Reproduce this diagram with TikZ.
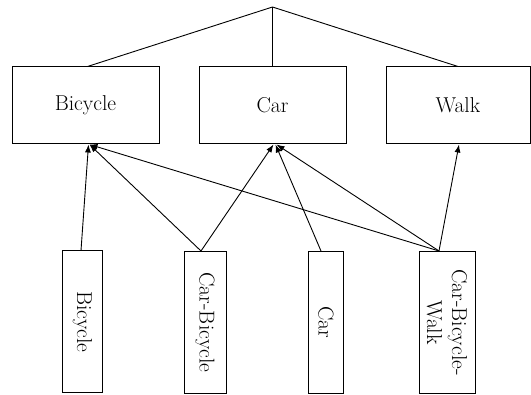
\documentclass[tikz,border=0pt]{standalone}
\usetikzlibrary{arrows.meta}
\begin{document}
\begin{tikzpicture}[x=1pt,y=-1pt,
  every node/.style={font=\rmfamily\fontsize{21.5}{25}\selectfont},
  topbox/.style={draw,line width=1pt,minimum height=77pt,inner sep=0pt},
  botbox/.style={draw,line width=1pt,minimum height=142pt,inner sep=0pt},
  vtext/.style={rotate=-90,align=center,inner sep=0pt},
  link/.style={line width=0.9pt},
  arr/.style={line width=0.9pt,-{Latex[length=8pt,width=6pt]}}]
\useasboundingbox (0,0) rectangle (531,395);
\coordinate (apex) at (272.5,7);
\node[topbox,minimum width=147pt] (tb) at (85.5,105.5) {Bicycle};
\node[topbox,minimum width=147pt] (tc) at (272.5,105.5) {Car};
\node[topbox,minimum width=144pt] (tw) at (458,105.5) {Walk};
\node[botbox,minimum width=40pt] (bb) at (82.5,322) {};
\node[vtext] at (bb) {Bicycle};
\node[botbox,minimum width=42pt] (bcb) at (205,322.5) {};
\node[vtext] at (bcb) {Car-Bicycle};
\node[botbox,minimum width=35pt] (bc) at (326,322.5) {};
\node[vtext] at (bc) {Car};
\node[botbox,minimum width=56pt] (bcbw) at (447,322.5) {};
\node[vtext] at (bcbw) {Car-Bicycle-\\Walk};
\draw[link] ([xshift=2pt]tb.north) -- (apex) -- (tw.north);
\draw[link] (apex) -- (tc.north);
\draw[arr] ([xshift=-1.5pt]bb.north) -- ([xshift=3pt]tb.south);
\draw[arr] ([xshift=-4pt]bcb.north) -- ([xshift=4pt]tb.south);
\draw[arr] ([xshift=-4pt]bcb.north) -- ([xshift=1pt]tc.south);
\draw[arr] ([xshift=-5pt]bc.north) -- ([xshift=3pt]tc.south);
\draw[arr] ([xshift=-8pt]bcbw.north) -- ([xshift=4pt]tb.south);
\draw[arr] ([xshift=-8pt]bcbw.north) -- ([xshift=4pt]tc.south);
\draw[arr] ([xshift=-8pt]bcbw.north) -- ([xshift=1pt]tw.south);
\end{tikzpicture}
\end{document}
